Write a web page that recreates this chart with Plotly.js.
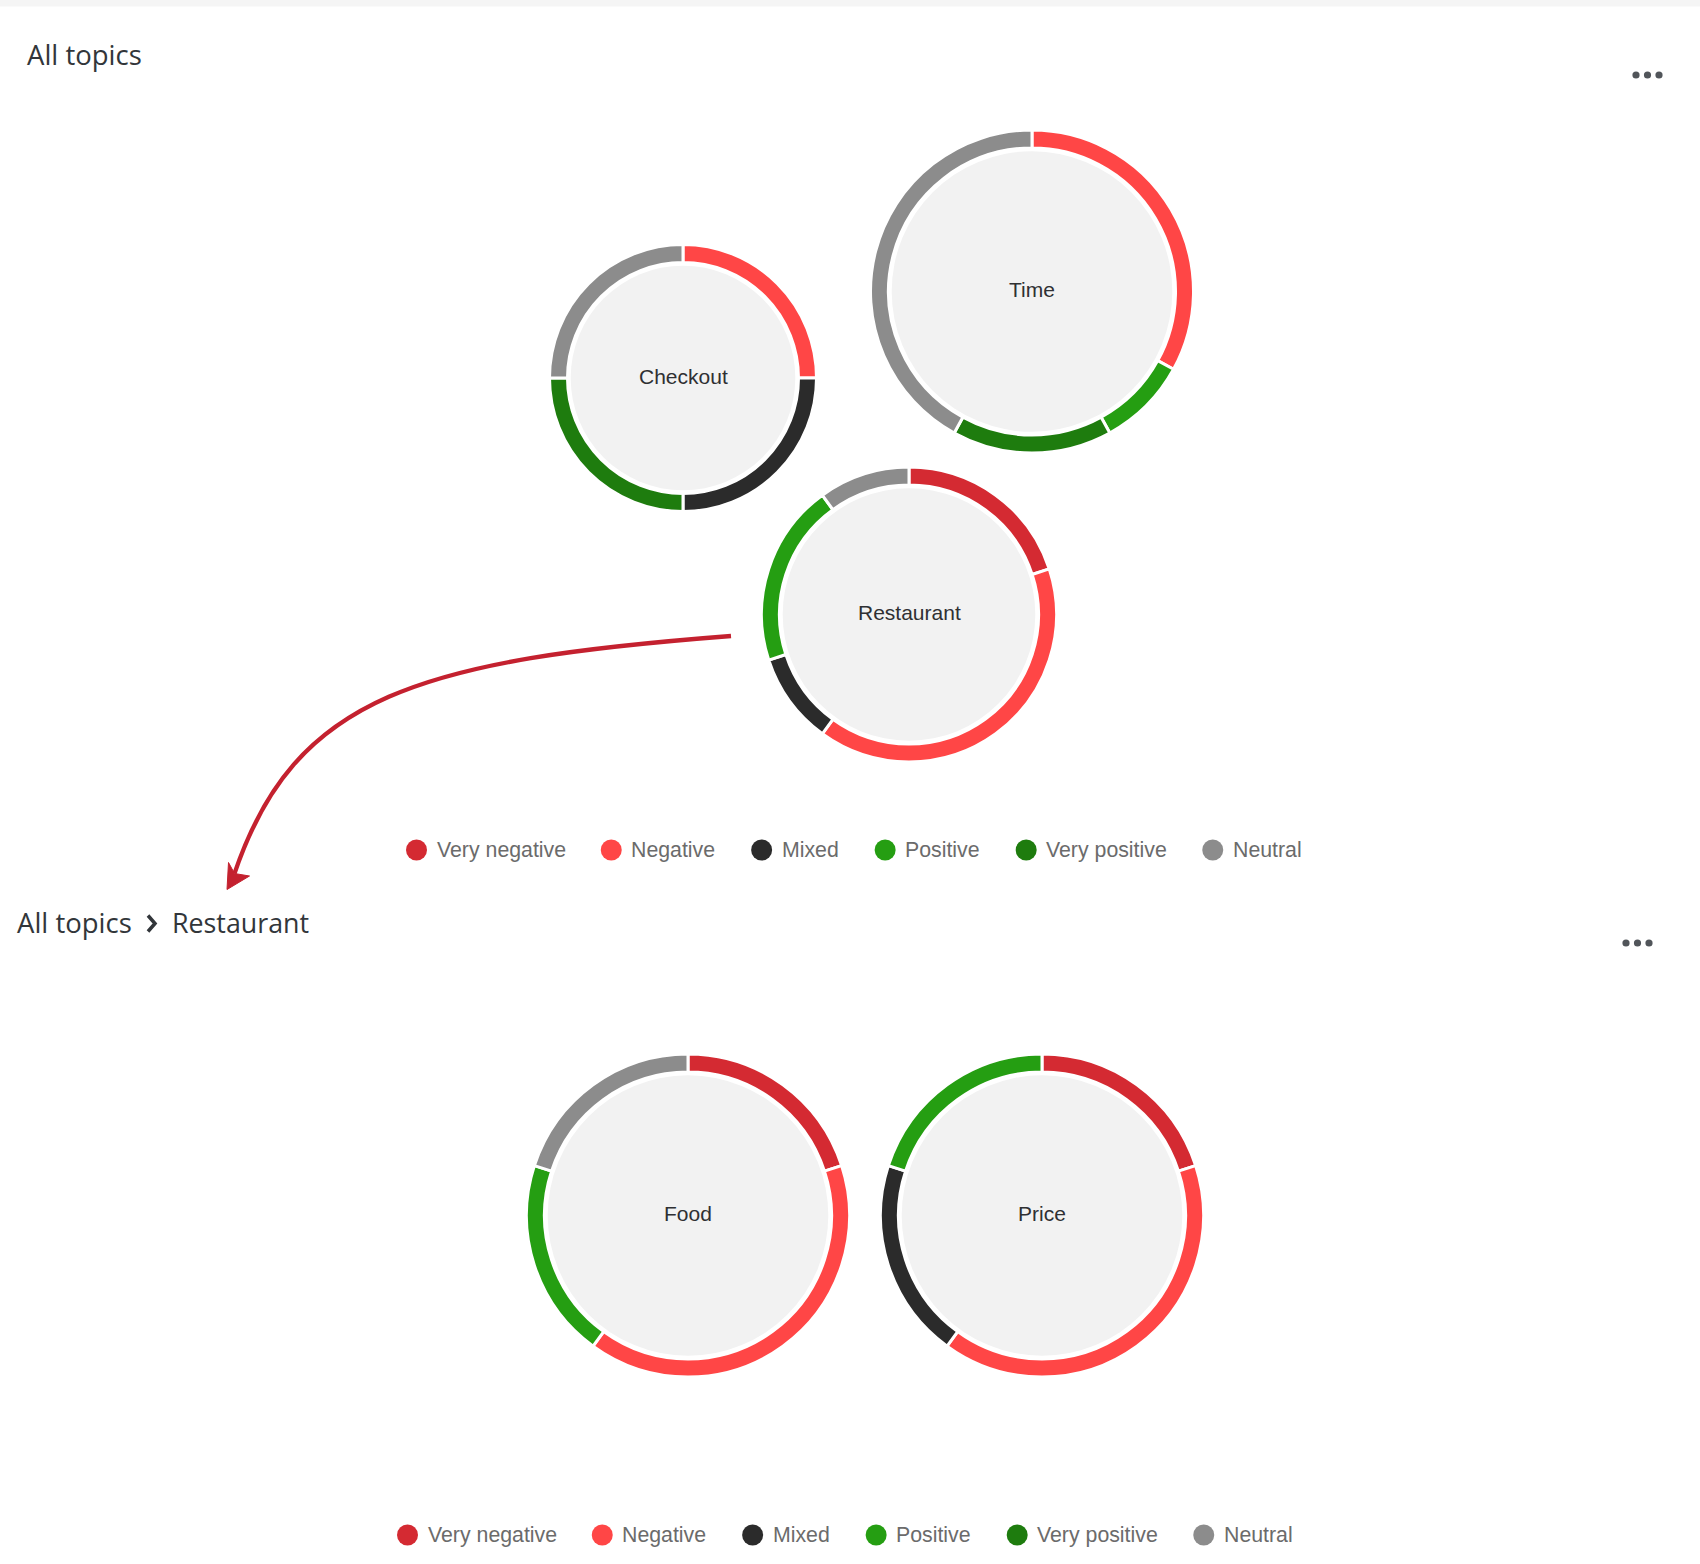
<!DOCTYPE html>
<html><head><meta charset="utf-8">
<script src="https://cdn.plot.ly/plotly-3.0.1.min.js"></script>
<style>html,body{margin:0;padding:0;background:#fff;} #chart{width:1700px;height:1564px;}</style>
</head><body><div id="chart"></div>
<script>
// ---------- data ----------
const sentiments = ["Very negative", "Negative", "Mixed", "Positive", "Very positive", "Neutral"];
const sentimentColors = ["#D42A32", "#FF4646", "#2B2B2B", "#259E12", "#1E7C0E", "#8C8C8C"];
const topTopics = ["Checkout", "Time", "Restaurant"];
const checkoutValues = [0, 25, 25, 0, 25, 25];
const timeValues = [0, 33, 0, 9, 16, 42];
const restaurantValues = [20, 40, 10, 20, 0, 10];
const subTopics = ["Food", "Price"];
const foodValues = [20, 40, 0, 20, 0, 20];
const priceValues = [20, 40, 20, 20, 0, 0];
const panelTitle = "All topics";
const breadcrumb = ["All topics", "Restaurant"];

// ---------- layout (positions / sizes / styles) ----------
const W = 1700, H = 1564;
const RING = 15, GAP = 4.7, SEP = 3;
const bubbles = [
  {name: topTopics[0], values: checkoutValues, cx: 683, cy: 378, r: 132},
  {name: topTopics[1], values: timeValues, cx: 1032, cy: 291.5, r: 160},
  {name: topTopics[2], values: restaurantValues, cx: 909, cy: 614.5, r: 146},
  {name: subTopics[0], values: foodValues, cx: 688, cy: 1215.5, r: 160},
  {name: subTopics[1], values: priceValues, cx: 1042, cy: 1215.5, r: 160}
];
const legends = [{x0: 416.5, y: 850}, {x0: 407.5, y: 1535}];
const labelFont = "Liberation Sans, Arial, sans-serif";
const titleFont = "Open Sans, Noto Sans, sans-serif";
const darkText = "#32363A";
const LEG_SIZE = 21.3;

const traces = [];
const shapes = [];
const annotations = [];

// top grey band
shapes.push({type: 'rect', xref: 'x', yref: 'y', x0: 0, x1: W, y0: 0, y1: 6.5, fillcolor: '#F5F5F5', line: {width: 0}, layer: 'below'});

// bubbles
bubbles.forEach(b => {
  const idx = sentiments.map((s, i) => i).filter(i => b.values[i] > 0);
  const outer = b.r + SEP / 2, inner = b.r - RING - SEP / 2;
  traces.push({
    type: 'pie', labels: idx.map(i => sentiments[i]), values: idx.map(i => b.values[i]),
    marker: {colors: idx.map(i => sentimentColors[i]), line: {color: '#FFFFFF', width: SEP}},
    hole: inner / outer, sort: false, direction: 'clockwise', rotation: 0,
    textinfo: 'none', hoverinfo: 'label+percent', showlegend: false, name: b.name,
    domain: {x: [(b.cx - outer) / W, (b.cx + outer) / W], y: [1 - (b.cy + outer) / H, 1 - (b.cy - outer) / H]}
  });
  const ir = b.r - RING - GAP;
  shapes.push({type: 'circle', xref: 'x', yref: 'y', x0: b.cx - ir, x1: b.cx + ir, y0: b.cy - ir, y1: b.cy + ir,
    fillcolor: '#F2F2F2', line: {width: 0}, layer: 'below'});
  annotations.push({x: b.cx, y: b.cy - 2, xref: 'x', yref: 'y', text: b.name, showarrow: false,
    xanchor: 'center', yanchor: 'middle', borderpad: 0, borderwidth: 0,
    font: {family: labelFont, size: 21, color: '#2F3033'}});
});

// legends (circle markers + labels)
const ctx = document.createElement('canvas').getContext('2d');
ctx.font = "21px 'Liberation Sans'";
legends.forEach(lg => {
  const xs = [];
  let x = lg.x0;
  sentiments.forEach((s, i) => {
    xs.push(x);
    annotations.push({x: x + 20, y: lg.y, xref: 'x', yref: 'y', text: s, showarrow: false,
      xanchor: 'left', yanchor: 'middle', borderpad: 0, borderwidth: 0,
      font: {family: labelFont, size: LEG_SIZE, color: '#6B6B6B'}});
    x += 20 + ctx.measureText(s).width + 47.5;
  });
  traces.push({type: 'scatter', mode: 'markers', x: xs, y: sentiments.map(() => lg.y),
    text: sentiments, hoverinfo: 'text', showlegend: false, cliponaxis: false,
    marker: {size: 21, color: sentimentColors, line: {width: 0}}});
});

// titles
annotations.push({x: 27, y: 54.3, xref: 'x', yref: 'y', text: panelTitle, showarrow: false,
  xanchor: 'left', yanchor: 'middle', borderpad: 0, borderwidth: 0,
  font: {family: titleFont, size: 27.5, color: darkText}});
annotations.push({x: 17, y: 922.6, xref: 'x', yref: 'y', text: breadcrumb[0], showarrow: false,
  xanchor: 'left', yanchor: 'middle', borderpad: 0, borderwidth: 0,
  font: {family: titleFont, size: 27.5, color: darkText}});
annotations.push({x: 171.5, y: 922.6, xref: 'x', yref: 'y', text: breadcrumb[1], showarrow: false,
  xanchor: 'left', yanchor: 'middle', borderpad: 0, borderwidth: 0,
  font: {family: titleFont, size: 26.8, color: darkText}});
// chevron
shapes.push({type: 'path', xref: 'x', yref: 'y', path: 'M 148 915.5 L 155 923.5 L 148 931.5',
  line: {color: darkText, width: 3.5}, fillcolor: 'rgba(0,0,0,0)'});

// "more" dots
[[1636, 75], [1647.5, 75], [1659, 75], [1626, 943], [1637.5, 943], [1649, 943]].forEach(p => {
  shapes.push({type: 'circle', xref: 'x', yref: 'y', x0: p[0] - 3.6, x1: p[0] + 3.6, y0: p[1] - 3.6, y1: p[1] + 3.6,
    fillcolor: '#51555A', line: {width: 0}});
});

// drill-down arrow
const arrowColor = '#C4212F';
shapes.push({type: 'path', xref: 'x', yref: 'y', path: 'M 731 636 C 420 660, 295 695, 234.5 873.5',
  line: {color: arrowColor, width: 4.3}, fillcolor: 'rgba(0,0,0,0)'});
shapes.push({type: 'path', xref: 'x', yref: 'y', path: 'M 227 889.5 L 228.5 862.5 L 234.5 873.5 L 249.5 876 Z',
  line: {color: arrowColor, width: 1}, fillcolor: arrowColor});

const layout = {
  width: W, height: H, margin: {l: 0, r: 0, t: 0, b: 0, pad: 0},
  paper_bgcolor: '#FFFFFF', plot_bgcolor: 'rgba(0,0,0,0)',
  xaxis: {range: [0, W], visible: false, fixedrange: true, domain: [0, 1]},
  yaxis: {range: [H, 0], visible: false, fixedrange: true, domain: [0, 1]},
  showlegend: false, shapes: shapes, annotations: annotations
};
Plotly.newPlot('chart', traces, layout, {displayModeBar: false, staticPlot: true});
</script>
</body></html>
